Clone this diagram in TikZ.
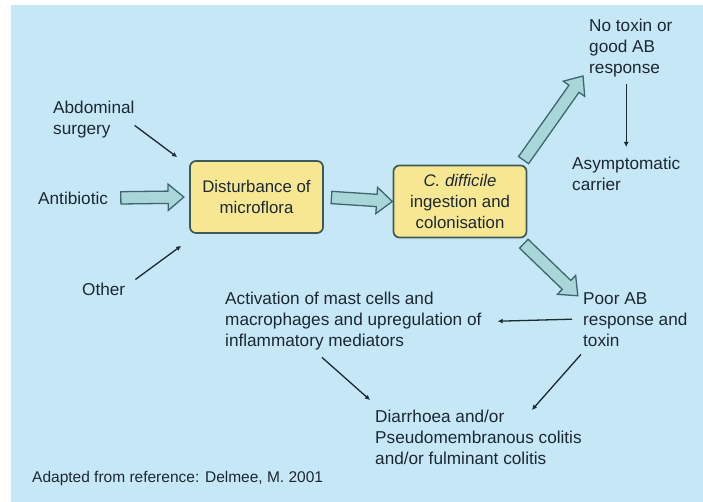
\documentclass[tikz,border=0pt]{standalone}
\usepackage{fontspec}
\setmainfont{Liberation Sans}
\usepackage{xcolor}
\usetikzlibrary{shapes.arrows,arrows.meta,positioning}

\definecolor{bgblue}{HTML}{C6E7F6}
\definecolor{boxfill}{HTML}{F7E792}
\definecolor{boxedge}{HTML}{3E5A58}
\definecolor{arrfill}{HTML}{A9D6D8}
\definecolor{arredge}{HTML}{3D6670}
\definecolor{ink}{HTML}{1C2833}

\begin{document}
\begin{tikzpicture}[
  x=1pt, y=-1pt,
  lbl/.style={text=ink, inner sep=0pt, align=left, font=\fontsize{17.2}{21}\selectfont},
  box/.style={draw=boxedge, line width=1.7pt, rounded corners=6pt, fill=boxfill, text=ink,
    minimum width=133pt, minimum height=72pt, align=center, font=\fontsize{16.8}{21}\selectfont},
  bigarr/.style={single arrow, draw=arredge, fill=arrfill, line width=1.3pt, inner xsep=0pt,
    inner ysep=5.5pt, single arrow head extend=7pt, single arrow tip angle=80, sloped},
  thinarr/.style={draw=ink, line width=1.3pt, -{Latex[length=5pt,width=5pt]}}
]
% --- canvas ---
\useasboundingbox (0,0) rectangle (703,502);
\fill[bgblue] (11,5) rectangle (703,502);

% --- causes ---
\node[lbl, anchor=north west] (abd) at (53,101) {Abdominal\\surgery};
\node[lbl, anchor=west] (anti) at (38,198) {Antibiotic};
\node[lbl, anchor=west] (other) at (82,289) {Other};

% --- boxes ---
\node[box] (dist) at (256.5,197) {Disturbance of\\microflora};
\node[box] (cdiff) at (460,201.5) {\textit{C. difficile}\\ingestion and\\colonisation};

% --- outcomes ---
\node[lbl, anchor=north west] (notox) at (589,19) {No toxin or\\good AB\\response};
\node[lbl, anchor=north west] (asym) at (572,157) {Asymptomatic\\carrier};
\node[lbl, anchor=north west] (poor) at (583,292) {Poor AB\\response and\\toxin};
\node[lbl, anchor=north west] (activ) at (225,292) {Activation of mast cells and\\macrophages and upregulation of\\inflammatory mediators};
\node[lbl, anchor=north west] (diar) at (375,410) {Diarrhoea and/or\\Pseudomembranous colitis\\and/or fulminant colitis};

% --- source ---
\node[lbl, anchor=west, font=\fontsize{15.5}{18}\selectfont] (src) at (32,478) {Adapted from reference: Delmee, M. 2001};

% Block arrows
\path (anti.east) -- node[bigarr, minimum height=63pt] (a1) {} (dist.west);
\path (dist.east) -- node[bigarr, minimum height=61pt] (a2) {} (cdiff.west);
\path ([xshift=-7pt]cdiff.north east) -- node[bigarr, minimum height=103pt, minimum width=25pt] (a3) {} ([xshift=-7pt]notox.south west);
\path ([shift={(-7,2)}]cdiff.south east) -- node[bigarr, minimum height=75pt, minimum width=25pt] (a4) {} ([shift={(-7,2)}]poor.north west);

% Thin arrows
\draw[thinarr] (abd.-8) -- ([shift={(-12,-3)}]dist.north west);
\draw[thinarr] ([shift={(10,-3)}]other.north east) -- ([shift={(-8,12)}]dist.south west);
\draw[thinarr] ([yshift=-7pt]asym.north |- notox.south) -- ([yshift=10pt]asym.north);
\draw[thinarr] ([xshift=-11pt]poor.west) -- ([xshift=16pt]activ.east);
\draw[thinarr] ([shift={(97,7)}]activ.south west) -- ([shift={(-5,-10)}]diar.north west);
\draw[thinarr] ([shift={(-2,8)}]poor.south west) -- ([shift={(-50,0)}]diar.north east);
\end{tikzpicture}
\end{document}
